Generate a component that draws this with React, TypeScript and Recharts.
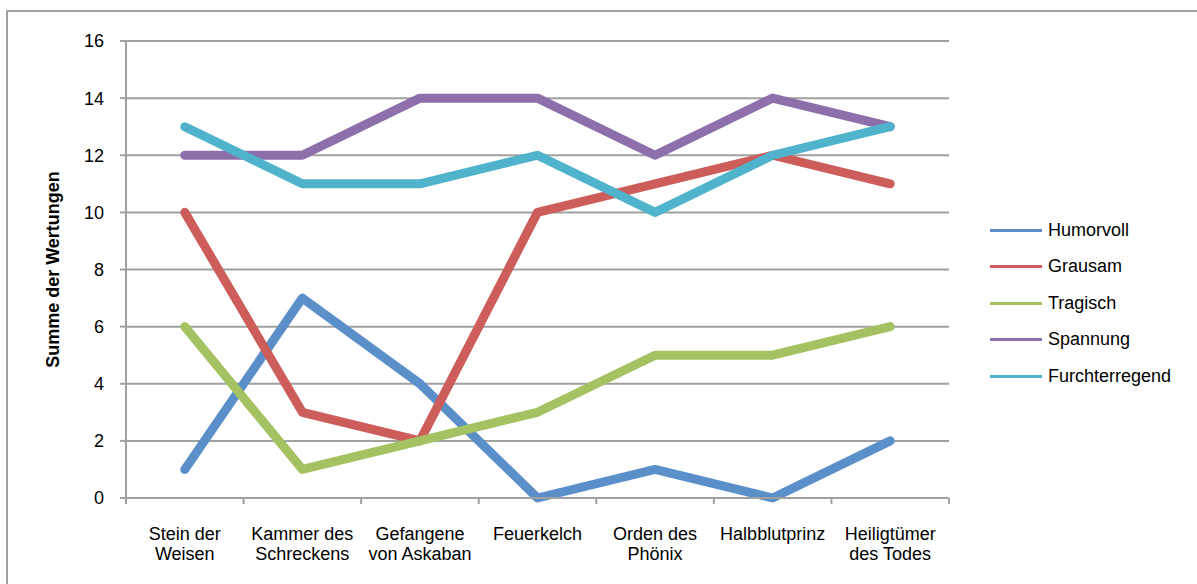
import { LineChart, Line, XAxis, YAxis, CartesianGrid } from 'recharts'

const categories = [
  ['Stein der', 'Weisen'],
  ['Kammer des', 'Schreckens'],
  ['Gefangene', 'von Askaban'],
  ['Feuerkelch'],
  ['Orden des', 'Phönix'],
  ['Halbblutprinz'],
  ['Heiligtümer', 'des Todes'],
]

const humorvoll = [1, 7, 4, 0, 1, 0, 2]
const grausam = [10, 3, 2, 10, 11, 12, 11]
const tragisch = [6, 1, 2, 3, 5, 5, 6]
const spannung = [12, 12, 14, 14, 12, 14, 13]
const furchterregend = [13, 11, 11, 12, 10, 12, 13]

const yTicks = [0, 2, 4, 6, 8, 10, 12, 14, 16]
const xTicks = [-0.5, 0, 0.5, 1, 1.5, 2, 2.5, 3, 3.5, 4, 4.5, 5, 5.5, 6, 6.5]

const series = [
  { key: 'humorvoll', name: 'Humorvoll', color: '#5b8fc9' },
  { key: 'grausam', name: 'Grausam', color: '#cc5d5a' },
  { key: 'tragisch', name: 'Tragisch', color: '#a4c262' },
  { key: 'spannung', name: 'Spannung', color: '#8d6fac' },
  { key: 'furchterregend', name: 'Furchterregend', color: '#4fb3cc' },
]

const data = categories.map((_, i) => ({
  idx: i,
  humorvoll: humorvoll[i],
  grausam: grausam[i],
  tragisch: tragisch[i],
  spannung: spannung[i],
  furchterregend: furchterregend[i],
}))

const FONT = '"Liberation Sans", Arial, sans-serif'
const GRAY = '#a0a0a0'

function CategoryTick(props: any) {
  const { x, y, payload } = props
  const v = payload.value
  if (!Number.isInteger(v)) {
    return <line x1={x} x2={x} y1={y - 6} y2={y} stroke={GRAY} strokeWidth={2} />
  }
  const lines = categories[v] || []
  return (
    <text x={x} y={y} textAnchor="middle" fontSize={18} fontFamily={FONT} fill="#000">
      {lines.map((l, i) => (
        <tspan key={i} x={x} dy={i === 0 ? 36 : 20}>
          {l}
        </tspan>
      ))}
    </text>
  )
}

function ChartLegend() {
  return (
    <div style={{ position: 'absolute', left: 990, top: 212, fontFamily: FONT, fontSize: 18, color: '#000' }}>
      {series.map((s) => (
        <div key={s.key} style={{ display: 'flex', alignItems: 'center', height: 36.5 }}>
          <div style={{ width: 52, height: 3, background: s.color, marginRight: 6 }} />
          <span>{s.name}</span>
        </div>
      ))}
    </div>
  )
}

export default function App() {
  return (
    <div style={{ position: 'absolute', left: 0, top: 0, width: 1197, height: 584, overflow: 'hidden', background: '#fff' }}>
      <div
        style={{
          position: 'absolute',
          left: 6,
          top: 10,
          width: 1220,
          height: 620,
          border: `2px solid ${GRAY}`,
        }}
      />
      <div style={{ position: 'absolute', left: 0, top: 0 }}>
        <LineChart width={1197} height={584} data={data} margin={{ top: 41, right: 248, left: 0, bottom: 0 }}>
          <CartesianGrid vertical={false} stroke={GRAY} strokeWidth={2} />
          <XAxis
            dataKey="idx"
            type="number"
            domain={[-0.5, 6.5]}
            ticks={xTicks}
            interval={0}
            height={86}
            tickSize={6}
            tickMargin={0}
            tickLine={false}
            axisLine={{ stroke: GRAY, strokeWidth: 2 }}
            tick={<CategoryTick />}
          />
          <YAxis
            domain={[0, 16]}
            ticks={yTicks}
            width={126}
            tickSize={6}
            tickMargin={16}
            axisLine={{ stroke: GRAY, strokeWidth: 2 }}
            tickLine={{ stroke: GRAY, strokeWidth: 2 }}
            tick={{ fontSize: 18, fontFamily: FONT, fill: '#000' }}
            label={{
              value: 'Summe der Wertungen',
              content: ({ viewBox }: any) => (
                <text
                  x={viewBox.x + 53}
                  y={viewBox.y + viewBox.height / 2}
                  transform={`rotate(-90 ${viewBox.x + 53} ${viewBox.y + viewBox.height / 2})`}
                  textAnchor="middle"
                  dominantBaseline="central"
                  fontSize={18}
                  fontWeight="bold"
                  fontFamily={FONT}
                  fill="#000"
                >
                  Summe der Wertungen
                </text>
              ),
            }}
          />
          {series.map((s) => (
            <Line
              key={s.key}
              dataKey={s.key}
              name={s.name}
              stroke={s.color}
              strokeWidth={9}
              strokeLinecap="round"
              strokeLinejoin="round"
              dot={false}
              isAnimationActive={false}
            />
          ))}
        </LineChart>
      </div>
      <ChartLegend />
    </div>
  )
}
